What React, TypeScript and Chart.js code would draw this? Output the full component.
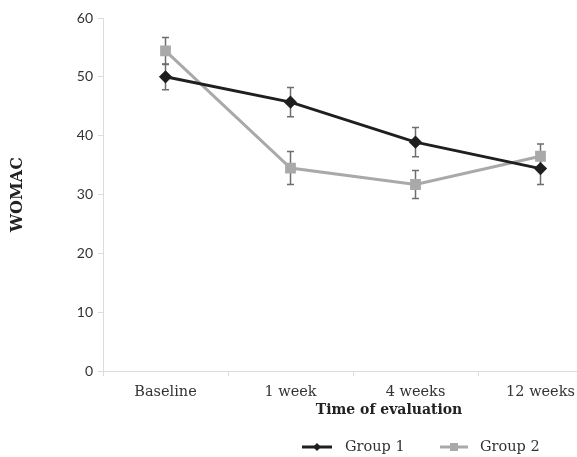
import React, { useEffect, useRef } from "react";
import { Chart, registerables } from "chart.js";

Chart.register(...registerables);

const categories = ["Baseline", "1 week", "4 weeks", "12 weeks"];
const group1Values = [50.0, 45.7, 38.9, 34.4];
const group1Errors = [2.2, 2.5, 2.5, 2.7];
const group2Values = [54.4, 34.5, 31.7, 36.5];
const group2Errors = [2.3, 2.8, 2.4, 2.1];
const seriesNames = ["Group 1", "Group 2"];
const yMin = 0;
const yMax = 60;
const yStep = 10;
const yTitle = "WOMAC";
const xTitle = "Time of evaluation";

const SERIF = '"DejaVu Serif", serif';

const errorBarPlugin = {
  id: "errorBars",
  beforeDatasetsDraw(chart: any) {
    const ctx = chart.ctx;
    const yScale = chart.scales.y;
    ctx.save();
    chart.data.datasets.forEach((ds: any, di: number) => {
      const meta = chart.getDatasetMeta(di);
      meta.data.forEach((pt: any, i: number) => {
        const v = ds.data[i];
        const e = ds.errors[i];
        const px = pt.x;
        const top = yScale.getPixelForValue(v + e);
        const bot = yScale.getPixelForValue(v - e);
        ctx.strokeStyle = "#6e6e6e";
        ctx.lineWidth = 1.5;
        ctx.beginPath();
        ctx.moveTo(px, top);
        ctx.lineTo(px, bot);
        ctx.moveTo(px - 3.5, top);
        ctx.lineTo(px + 3.5, top);
        ctx.moveTo(px - 3.5, bot);
        ctx.lineTo(px + 3.5, bot);
        ctx.stroke();
      });
    });
    ctx.restore();
  },
};

const annotationPlugin = {
  id: "extraText",
  afterDraw(chart: any) {
    const ctx = chart.ctx;
    ctx.save();
    ctx.fillStyle = "#222";
    ctx.font = `bold 14px ${SERIF}`;
    ctx.textAlign = "center";
    ctx.textBaseline = "middle";
    ctx.fillText(xTitle, 389, 410);

    // legend
    const items = [
      { x0: 302, x1: 332, tx: 345 },
      { x0: 440, x1: 468, tx: 480 },
    ];
    const ly = 447;
    chart.data.datasets.forEach((ds: any, di: number) => {
      const it = items[di];
      ctx.strokeStyle = ds.borderColor;
      ctx.lineWidth = 3;
      ctx.beginPath();
      ctx.moveTo(it.x0, ly);
      ctx.lineTo(it.x1, ly);
      ctx.stroke();
      const cx = (it.x0 + it.x1) / 2;
      ctx.fillStyle = ds.pointBackgroundColor;
      ctx.beginPath();
      if (ds.pointStyle === "rectRot") {
        ctx.moveTo(cx, ly - 4);
        ctx.lineTo(cx + 4, ly);
        ctx.lineTo(cx, ly + 4);
        ctx.lineTo(cx - 4, ly);
        ctx.closePath();
      } else {
        ctx.rect(cx - 4, ly - 4, 8, 8);
      }
      ctx.fill();
      ctx.fillStyle = "#333";
      ctx.font = `14.5px ${SERIF}`;
      ctx.textAlign = "left";
      ctx.fillText(ds.label, it.tx, ly);
    });
    ctx.restore();
  },
};

export default function App() {
  const ref = useRef<HTMLCanvasElement | null>(null);
  useEffect(() => {
    if (!ref.current) return;
    const chart = new Chart(ref.current, {
      type: "line",
      data: {
        labels: categories,
        datasets: [
          {
            label: seriesNames[0],
            data: group1Values,
            errors: group1Errors,
            borderColor: "#1f1f1f",
            backgroundColor: "#1f1f1f",
            pointBackgroundColor: "#1f1f1f",
            pointBorderColor: "#1f1f1f",
            borderWidth: 3,
            pointStyle: "rectRot",
            pointRadius: 4.5,
            tension: 0,
            order: 1,
          } as any,
          {
            label: seriesNames[1],
            data: group2Values,
            errors: group2Errors,
            borderColor: "#a9a9a9",
            backgroundColor: "#a9a9a9",
            pointBackgroundColor: "#a9a9a9",
            pointBorderColor: "#a9a9a9",
            borderWidth: 3,
            pointStyle: "rect",
            pointRadius: 5.5,
            tension: 0,
            order: 2,
          } as any,
        ],
      },
      options: {
        animation: false,
        responsive: false,
        maintainAspectRatio: false,
        layout: { padding: { top: 18, right: 17, left: 0, bottom: 0 } },
        plugins: {
          legend: { display: false },
          tooltip: { enabled: false },
        },
        scales: {
          x: {
            type: "category",
            offset: true,
            grid: {
              display: true,
              offset: true,
              drawOnChartArea: false,
              drawTicks: true,
              tickLength: 5,
              color: "#dcdcdc",
            },
            border: { display: true, color: "#dcdcdc", width: 1 },
            ticks: {
              color: "#333",
              font: { family: SERIF, size: 14.5 },
              padding: 8,
              maxRotation: 0,
              autoSkip: false,
            },
            afterFit(scale: any) {
              scale.height = 86;
            },
          },
          y: {
            min: yMin,
            max: yMax,
            ticks: {
              stepSize: yStep,
              color: "#333",
              font: { family: "Lato", size: 14 },
              padding: 5,
            },
            grid: {
              display: true,
              drawOnChartArea: false,
              drawTicks: true,
              tickLength: 5,
              color: "#dcdcdc",
            },
            border: { display: true, color: "#dcdcdc", width: 1 },
            title: {
              display: true,
              text: yTitle,
              color: "#222",
              font: { family: SERIF, size: 16, weight: "bold" },
              padding: { top: 8, bottom: 0 },
            },
            afterFit(scale: any) {
              scale.width = 103;
            },
          },
        },
      },
      plugins: [errorBarPlugin, annotationPlugin],
    });
    return () => chart.destroy();
  }, []);

  return (
    <div
      style={{
        position: "fixed",
        left: 0,
        top: 0,
        width: 577,
        height: 457,
        overflow: "hidden",
        background: "#fff",
      }}
    >
      <canvas ref={ref} width={620} height={457} style={{ width: 620, height: 457, display: "block" }} />
    </div>
  );
}
